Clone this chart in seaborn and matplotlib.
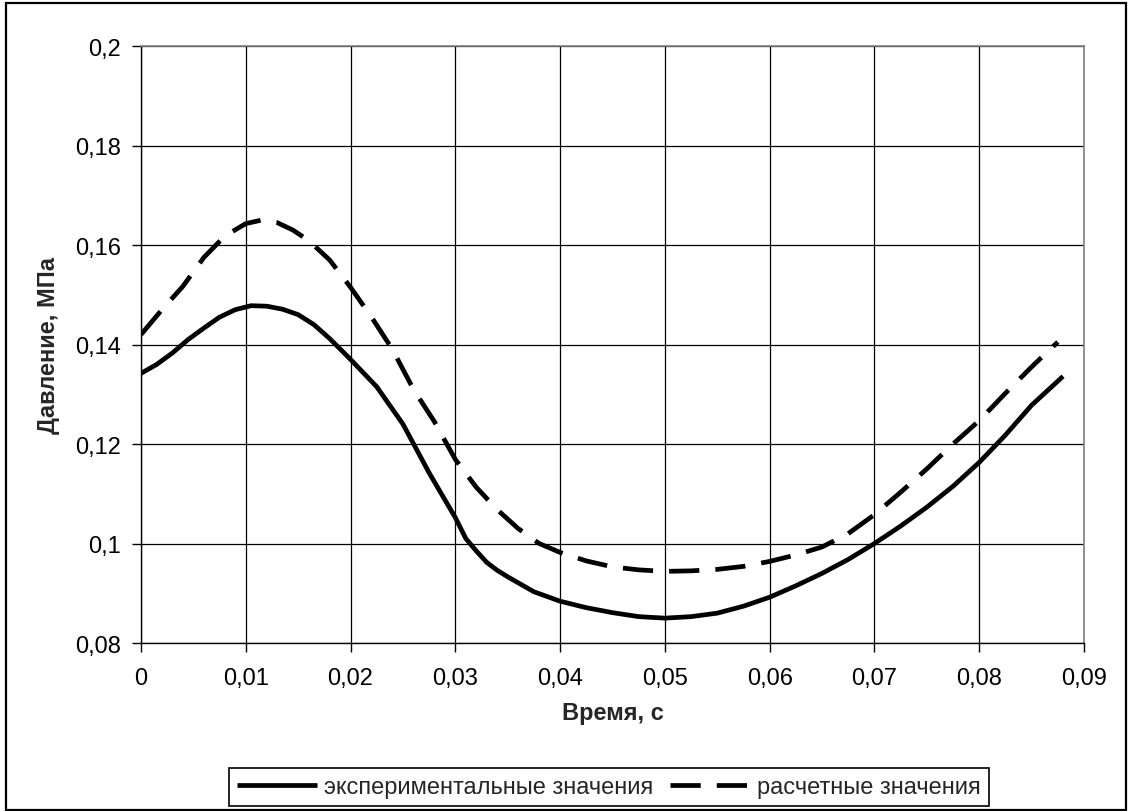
import numpy as np
import pandas as pd
import matplotlib
matplotlib.use("Agg")
import matplotlib.pyplot as plt
from matplotlib.ticker import FixedLocator, FuncFormatter
from matplotlib.patches import Rectangle
import seaborn as sns

# ---- data ----
exp_t = [0, 0.0015, 0.003, 0.0045, 0.006, 0.0075, 0.009, 0.0105, 0.012, 0.0135,
         0.015, 0.0165, 0.018, 0.020, 0.0225, 0.025, 0.0275, 0.030, 0.031, 0.032,
         0.033, 0.034, 0.035, 0.0375, 0.040, 0.0425, 0.045, 0.0475, 0.050, 0.0525,
         0.055, 0.0575, 0.060, 0.0625, 0.065, 0.0675, 0.070, 0.0725, 0.075, 0.0775,
         0.080, 0.0825, 0.085, 0.088]
exp_p = [0.1342, 0.1360, 0.1383, 0.1410, 0.1433, 0.1455, 0.1470, 0.1478, 0.1477, 0.1471,
         0.1460, 0.1440, 0.1412, 0.1370, 0.1315, 0.1240, 0.1142, 0.1052, 0.1010, 0.0985,
         0.0962, 0.0946, 0.0933, 0.0903, 0.0884, 0.0871, 0.0861, 0.0853, 0.0850, 0.0853,
         0.0860, 0.0874, 0.0892, 0.0915, 0.0940, 0.0968, 0.1000, 0.1035, 0.1073, 0.1115,
         0.1163, 0.1218, 0.1278, 0.1336]

calc_t = [0, 0.002, 0.004, 0.006, 0.008, 0.010, 0.0115, 0.013, 0.0145, 0.016,
          0.018, 0.020, 0.022, 0.024, 0.026, 0.028, 0.030, 0.032, 0.034, 0.036,
          0.038, 0.040, 0.0425, 0.045, 0.0475, 0.050, 0.0525, 0.055, 0.0575, 0.060,
          0.0625, 0.065, 0.0675, 0.070, 0.0725, 0.075, 0.0775, 0.080, 0.0825, 0.085,
          0.0875]
calc_p = [0.1420, 0.1470, 0.1517, 0.1575, 0.1618, 0.1643, 0.1650, 0.1645, 0.1630, 0.1609,
          0.1570, 0.1515, 0.1455, 0.1390, 0.1310, 0.1245, 0.1169, 0.1113, 0.1068, 0.1030,
          0.1000, 0.0982, 0.0965, 0.0953, 0.0947, 0.0944, 0.0945, 0.0948, 0.0954, 0.0964,
          0.0977, 0.0993, 0.1020, 0.1058, 0.1103, 0.1150, 0.1200, 0.1247, 0.1302, 0.1355,
          0.1405]

x_ticks = [0, 0.01, 0.02, 0.03, 0.04, 0.05, 0.06, 0.07, 0.08, 0.09]
y_ticks = [0.08, 0.10, 0.12, 0.14, 0.16, 0.18, 0.20]

label_exp = "экспериментальные значения"
label_calc = "расчетные значения"
x_label = "Время, с"
y_label = "Давление, МПа"

# ---- style ----
sns.set_style("white")
plt.rcParams["font.family"] = ["Liberation Sans", "DejaVu Sans"]
FS = 17

fig = plt.figure(figsize=(11.28, 8.12), dpi=100)
ax = fig.add_axes([141 / 1128, 1 - 644 / 812, (1084 - 141) / 1128, (644 - 47) / 812])

df_exp = pd.DataFrame({"t": exp_t, "p": exp_p})
df_calc = pd.DataFrame({"t": calc_t, "p": calc_p})

LW = 3.4
sns.lineplot(data=df_exp, x="t", y="p", ax=ax, color="black", lw=LW,
             label=label_exp, estimator=None, sort=False)
sns.lineplot(data=df_calc, x="t", y="p", ax=ax, color="black", lw=LW,
             label=label_calc, estimator=None, sort=False)
ax.lines[1].set_dashes((6.4, 3.4))
ax.lines[1].set_dash_capstyle("butt")
ax.lines[0].set_solid_capstyle("butt")
for ln in ax.lines[:2]:
    ln.set_solid_joinstyle("round")
    ln.set_dash_joinstyle("round")

ax.set_xlim(0, 0.09)
ax.set_ylim(0.08, 0.2)

fmt = FuncFormatter(lambda v, pos: f"{round(v, 4):g}".replace(".", ","))
ax.xaxis.set_major_locator(FixedLocator(x_ticks))
ax.yaxis.set_major_locator(FixedLocator(y_ticks))
ax.xaxis.set_major_formatter(fmt)
ax.yaxis.set_major_formatter(fmt)

ax.grid(True, color="black", lw=0.9)
ax.set_axisbelow(True)

for s in ("top", "right"):
    ax.spines[s].set_color("#808080")
    ax.spines[s].set_linewidth(1.2)
for s in ("left", "bottom"):
    ax.spines[s].set_color("black")
    ax.spines[s].set_linewidth(1.0)

ax.tick_params(axis="both", which="major", direction="out", length=6.5, width=1,
               color="black", labelsize=FS, labelcolor="black", bottom=True, left=True)
ax.tick_params(axis="x", pad=11)
ax.tick_params(axis="y", pad=8)

ax.set_xlabel(x_label, fontsize=FS, fontweight="bold")
ax.set_ylabel(y_label, fontsize=FS, fontweight="bold")
ax.xaxis.set_label_coords(0.5, -0.097)
ax.yaxis.set_label_coords(-0.086, 0.5)

leg = ax.legend(loc="center", bbox_to_anchor=(609 / 1128, 1 - 788 / 812),
                bbox_transform=fig.transFigure, ncol=2, fontsize=FS, frameon=True,
                fancybox=False, handlelength=3.4, handletextpad=0.3,
                columnspacing=0.7, borderpad=0.35, borderaxespad=0)
leg.get_frame().set_edgecolor("black")
leg.get_frame().set_linewidth(1.2)
leg.get_frame().set_alpha(1)

# outer chart border
fig.patches.append(Rectangle((6 / 1128, 1 / 812), (1126 - 6) / 1128, (808 - 1) / 812,
                             transform=fig.transFigure, fill=False,
                             edgecolor="black", lw=1.6))

fig.savefig("out.png", dpi=100)
